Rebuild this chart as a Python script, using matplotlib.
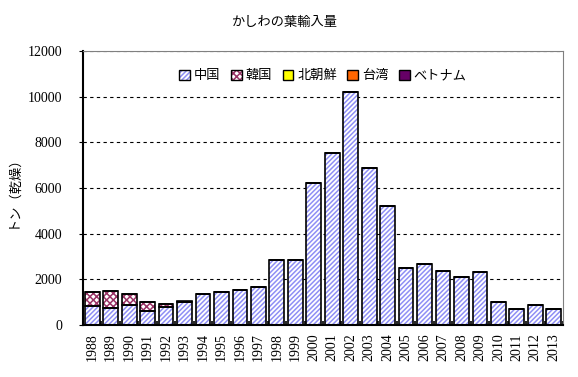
import numpy as np
import matplotlib
matplotlib.use("Agg")
import matplotlib.pyplot as plt
from matplotlib.patches import Patch
from matplotlib.legend_handler import HandlerTuple

plt.rcParams["hatch.linewidth"] = 1.1

years = [str(y) for y in range(1988, 2014)]
series = ["中国", "韓国", "北朝鮮", "台湾", "ベトナム"]
china = [820, 760, 860, 630, 775, 1000, 1360, 1445, 1530, 1660,
         2850, 2850, 6200, 7550, 10190, 6860, 5210, 2480, 2660, 2365,
         2090, 2310, 990, 685, 860, 685]
korea = [610, 730, 510, 360, 140, 0, 0, 0, 0, 0,
         0, 0, 0, 0, 0, 0, 0, 0, 0, 0,
         0, 0, 0, 0, 0, 0]
nkorea = [0] * 26
taiwan = [0] * 26
vietnam = [0, 0, 0, 0, 0, 50, 0, 0, 0, 0,
           0, 0, 0, 0, 0, 0, 0, 0, 0, 0,
           0, 0, 0, 0, 30, 0]

# (face, hatch, hatch colour)
styles = [
    ("white", "///////", "#8f8ff5"),
    ("white", "xxxxx", "#993366"),
    ("#ffff00", None, "black"),
    ("#ff6600", None, "black"),
    ("#660066", None, "black"),
]
values = [china, korea, nkorea, taiwan, vietnam]

JP = ["Noto Sans CJK JP", "DejaVu Sans"]
SERIF = ["Liberation Serif", "DejaVu Serif"]

fig = plt.figure(figsize=(5.78, 3.77), dpi=100)
ax = fig.add_axes([0.1436, 0.1379, 0.8305, 0.7268])

x = np.arange(len(years))
w = 0.8
bottom = np.zeros(len(years))
for vals, (fc, hatch, hc) in zip(values, styles):
    v = np.array(vals, dtype=float)
    if v.sum() == 0:
        continue
    ax.bar(x, v, w, bottom=bottom, color=fc, hatch=hatch, edgecolor=hc,
           linewidth=0, zorder=2)
    ax.bar(x, v, w, bottom=bottom, fill=False, edgecolor="black",
           linewidth=1.2, zorder=3)
    bottom += v

ax.set_xlim(-0.5, len(years) - 0.5)
ax.set_ylim(0, 12000)
ax.set_yticks(range(0, 12001, 2000))
ax.set_yticklabels([str(t) for t in range(0, 12001, 2000)],
                   family=SERIF, fontsize=10)
ax.set_xticks(x)
ax.set_xticklabels(years, rotation=90, family=SERIF, fontsize=10)
ax.tick_params(axis="x", length=0, pad=6)
ax.set_xticks(np.arange(-0.5, len(years)), minor=True)
ax.tick_params(axis="x", which="minor", direction="in", length=3, width=1.2)
ax.tick_params(axis="y", direction="out", length=3, pad=12)

ax.grid(axis="y", linestyle=(0, (3, 3)), color="black", linewidth=0.8, zorder=1)
for s in ["top", "right"]:
    ax.spines[s].set_color("#808080")
for s in ["left", "bottom"]:
    ax.spines[s].set_linewidth(1.5)

ax.set_ylabel("トン（乾燥）", family=JP, fontsize=9.5, labelpad=6)
fig.text(0.493, 0.94, "かしわの葉輸入量", family=JP, fontsize=9.5,
         ha="center", va="center")

# legend keys: hatched fill in its own colour, black outline on top
handles = []
for fc, hatch, hc in styles:
    fill = Patch(facecolor=fc, hatch=hatch, edgecolor=hc, linewidth=0)
    frame = Patch(fill=False, edgecolor="black", linewidth=1)
    handles.append((fill, frame))
ax.legend(handles, series, loc="center", bbox_to_anchor=(0.5, 0.91),
          ncol=5, frameon=False, prop={"family": JP, "size": 9.5},
          handler_map={tuple: HandlerTuple(ndivide=1, pad=0)},
          handlelength=0.8, handleheight=0.8, handletextpad=0.3,
          columnspacing=0.8)

fig.savefig("out.png", dpi=100)
